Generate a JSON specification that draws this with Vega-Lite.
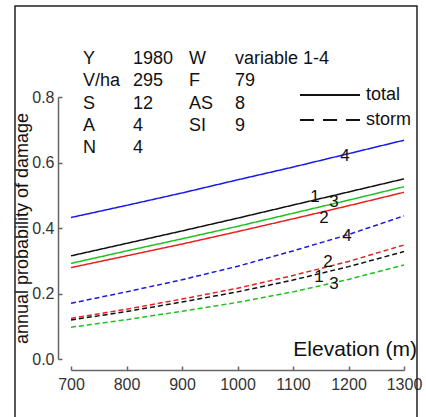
{
  "$schema": "https://vega.github.io/schema/vega-lite/v6.json",
  "width": 333,
  "height": 262,
  "autosize": {"type": "none"},
  "padding": {"left": 71, "top": 97, "right": 22, "bottom": 58},
  "background": "white",
  "config": {"view": {"stroke": null}, "font": "Liberation Sans"},
  "datasets": {
    "curves": [
      {"elev": 700, "prob": 0.432, "variant": "4", "type": "total"},
      {"elev": 800, "prob": 0.469, "variant": "4", "type": "total"},
      {"elev": 900, "prob": 0.507, "variant": "4", "type": "total"},
      {"elev": 1000, "prob": 0.547, "variant": "4", "type": "total"},
      {"elev": 1100, "prob": 0.586, "variant": "4", "type": "total"},
      {"elev": 1200, "prob": 0.627, "variant": "4", "type": "total"},
      {"elev": 1300, "prob": 0.668, "variant": "4", "type": "total"},
      {"elev": 700, "prob": 0.315, "variant": "1", "type": "total"},
      {"elev": 800, "prob": 0.353, "variant": "1", "type": "total"},
      {"elev": 900, "prob": 0.391, "variant": "1", "type": "total"},
      {"elev": 1000, "prob": 0.430, "variant": "1", "type": "total"},
      {"elev": 1100, "prob": 0.470, "variant": "1", "type": "total"},
      {"elev": 1200, "prob": 0.510, "variant": "1", "type": "total"},
      {"elev": 1300, "prob": 0.550, "variant": "1", "type": "total"},
      {"elev": 700, "prob": 0.292, "variant": "3", "type": "total"},
      {"elev": 800, "prob": 0.330, "variant": "3", "type": "total"},
      {"elev": 900, "prob": 0.367, "variant": "3", "type": "total"},
      {"elev": 1000, "prob": 0.405, "variant": "3", "type": "total"},
      {"elev": 1100, "prob": 0.445, "variant": "3", "type": "total"},
      {"elev": 1200, "prob": 0.485, "variant": "3", "type": "total"},
      {"elev": 1300, "prob": 0.526, "variant": "3", "type": "total"},
      {"elev": 700, "prob": 0.279, "variant": "2", "type": "total"},
      {"elev": 800, "prob": 0.315, "variant": "2", "type": "total"},
      {"elev": 900, "prob": 0.351, "variant": "2", "type": "total"},
      {"elev": 1000, "prob": 0.389, "variant": "2", "type": "total"},
      {"elev": 1100, "prob": 0.428, "variant": "2", "type": "total"},
      {"elev": 1200, "prob": 0.468, "variant": "2", "type": "total"},
      {"elev": 1300, "prob": 0.509, "variant": "2", "type": "total"},
      {"elev": 700, "prob": 0.170, "variant": "4", "type": "storm"},
      {"elev": 800, "prob": 0.205, "variant": "4", "type": "storm"},
      {"elev": 900, "prob": 0.242, "variant": "4", "type": "storm"},
      {"elev": 1000, "prob": 0.283, "variant": "4", "type": "storm"},
      {"elev": 1100, "prob": 0.330, "variant": "4", "type": "storm"},
      {"elev": 1200, "prob": 0.380, "variant": "4", "type": "storm"},
      {"elev": 1300, "prob": 0.437, "variant": "4", "type": "storm"},
      {"elev": 700, "prob": 0.124, "variant": "2", "type": "storm"},
      {"elev": 800, "prob": 0.152, "variant": "2", "type": "storm"},
      {"elev": 900, "prob": 0.183, "variant": "2", "type": "storm"},
      {"elev": 1000, "prob": 0.216, "variant": "2", "type": "storm"},
      {"elev": 1100, "prob": 0.255, "variant": "2", "type": "storm"},
      {"elev": 1200, "prob": 0.298, "variant": "2", "type": "storm"},
      {"elev": 1300, "prob": 0.348, "variant": "2", "type": "storm"},
      {"elev": 700, "prob": 0.119, "variant": "1", "type": "storm"},
      {"elev": 800, "prob": 0.145, "variant": "1", "type": "storm"},
      {"elev": 900, "prob": 0.174, "variant": "1", "type": "storm"},
      {"elev": 1000, "prob": 0.205, "variant": "1", "type": "storm"},
      {"elev": 1100, "prob": 0.241, "variant": "1", "type": "storm"},
      {"elev": 1200, "prob": 0.282, "variant": "1", "type": "storm"},
      {"elev": 1300, "prob": 0.328, "variant": "1", "type": "storm"},
      {"elev": 700, "prob": 0.097, "variant": "3", "type": "storm"},
      {"elev": 800, "prob": 0.120, "variant": "3", "type": "storm"},
      {"elev": 900, "prob": 0.146, "variant": "3", "type": "storm"},
      {"elev": 1000, "prob": 0.173, "variant": "3", "type": "storm"},
      {"elev": 1100, "prob": 0.205, "variant": "3", "type": "storm"},
      {"elev": 1200, "prob": 0.243, "variant": "3", "type": "storm"},
      {"elev": 1300, "prob": 0.287, "variant": "3", "type": "storm"}
    ],
    "labels": [
      {"elev": 1193.7, "prob": 0.620, "label": "4"},
      {"elev": 1139.6, "prob": 0.4956, "label": "1"},
      {"elev": 1173.9, "prob": 0.480, "label": "3"},
      {"elev": 1155.9, "prob": 0.4305, "label": "2"},
      {"elev": 1197.3, "prob": 0.3756, "label": "4"},
      {"elev": 1163.1, "prob": 0.297, "label": "2"},
      {"elev": 1146.8, "prob": 0.251, "label": "1"},
      {"elev": 1173.9, "prob": 0.229, "label": "3"}
    ],
    "one": [{}]
  },
  "layer": [
    {
      "data": {"name": "curves"},
      "mark": {"type": "line", "strokeWidth": 1.5, "clip": false},
      "encoding": {
        "x": {
          "field": "elev", "type": "quantitative",
          "scale": {"domain": [700, 1300]},
          "axis": {
            "title": null, "values": [700, 800, 900, 1000, 1100, 1200, 1300], "format": "d",
            "offset": 11, "tickSize": -4, "labelPadding": 10, "labelFontSize": 16,
            "labelColor": "#333", "domainColor": "#666", "tickColor": "#666",
            "domainWidth": 1.5, "tickWidth": 1.5, "grid": false, "labelFlush": false
          }
        },
        "y": {
          "field": "prob", "type": "quantitative",
          "scale": {"domain": [0, 0.8]},
          "axis": {
            "title": "annual probability of damage", "values": [0, 0.2, 0.4, 0.6, 0.8], "format": ".1f",
            "offset": 13, "tickSize": -4, "labelPadding": 8, "labelFontSize": 16,
            "labelColor": "#333", "domainColor": "#666", "tickColor": "#666",
            "domainWidth": 1.5, "tickWidth": 1.5, "grid": false, "labelFlush": false,
            "titleFontSize": 18, "titleFontWeight": "normal", "titleColor": "#111", "titlePadding": 0
          }
        },
        "color": {
          "field": "variant", "type": "nominal",
          "scale": {"domain": ["1", "2", "3", "4"], "range": ["#111111", "#e82020", "#20c020", "#1a1ae6"]},
          "legend": null
        },
        "strokeDash": {
          "field": "type", "type": "nominal",
          "scale": {"domain": ["total", "storm"], "range": [[1, 0], [5, 3]]},
          "legend": null
        }
      }
    },
    {
      "data": {"name": "one"},
      "mark": {"type": "rect", "fill": null, "stroke": "#222", "strokeWidth": 1.5},
      "encoding": {
        "x": {"datum": 599.1, "type": "quantitative"},
        "x2": {"datum": 1323.4},
        "y": {"datum": 1.078, "type": "quantitative"},
        "y2": {"datum": -0.25}
      }
    },
    {
      "data": {"name": "one"},
      "mark": {"type": "rule", "stroke": "#111", "strokeWidth": 2},
      "encoding": {
        "x": {"datum": 1112.6, "type": "quantitative"},
        "x2": {"datum": 1220.7},
        "y": {"datum": 0.806, "type": "quantitative"}
      }
    },
    {
      "data": {"name": "one"},
      "mark": {"type": "rule", "stroke": "#111", "strokeWidth": 2, "strokeDash": [14, 9]},
      "encoding": {
        "x": {"datum": 1112.6, "type": "quantitative"},
        "x2": {"datum": 1220.7},
        "y": {"datum": 0.7298, "type": "quantitative"}
      }
    },
    {
      "data": {"name": "one"},
      "mark": {"type": "text", "text": "total", "align": "left", "baseline": "middle", "fontSize": 18, "color": "#111"},
      "encoding": {
        "x": {"datum": 1231.5, "type": "quantitative"},
        "y": {"datum": 0.806, "type": "quantitative"}
      }
    },
    {
      "data": {"name": "one"},
      "mark": {"type": "text", "text": "storm", "align": "left", "baseline": "middle", "fontSize": 18, "color": "#111"},
      "encoding": {
        "x": {"datum": 1231.5, "type": "quantitative"},
        "y": {"datum": 0.731, "type": "quantitative"}
      }
    },
    {
      "data": {"name": "labels"},
      "mark": {"type": "text", "fontSize": 17, "color": "#111", "align": "center", "baseline": "middle"},
      "encoding": {
        "x": {"field": "elev", "type": "quantitative"},
        "y": {"field": "prob", "type": "quantitative"},
        "text": {"field": "label"}
      }
    },
    {
      "data": {"name": "one"},
      "mark": {"type": "text", "text": ["Y", "V/ha", "S", "A", "N"], "align": "left", "baseline": "middle", "fontSize": 18, "lineHeight": 22.25, "color": "#111"},
      "encoding": {
        "x": {"datum": 721.6, "type": "quantitative"},
        "y": {"datum": 0.916, "type": "quantitative"}
      }
    },
    {
      "data": {"name": "one"},
      "mark": {"type": "text", "text": ["1980", "295", "12", "4", "4"], "align": "left", "baseline": "middle", "fontSize": 18, "lineHeight": 22.25, "color": "#111"},
      "encoding": {
        "x": {"datum": 811.7, "type": "quantitative"},
        "y": {"datum": 0.916, "type": "quantitative"}
      }
    },
    {
      "data": {"name": "one"},
      "mark": {"type": "text", "text": ["W", "F", "AS", "SI"], "align": "left", "baseline": "middle", "fontSize": 18, "lineHeight": 22.25, "color": "#111"},
      "encoding": {
        "x": {"datum": 912.6, "type": "quantitative"},
        "y": {"datum": 0.916, "type": "quantitative"}
      }
    },
    {
      "data": {"name": "one"},
      "mark": {"type": "text", "text": ["variable 1-4", "79", "8", "9"], "align": "left", "baseline": "middle", "fontSize": 18, "lineHeight": 22.25, "color": "#111"},
      "encoding": {
        "x": {"datum": 995.5, "type": "quantitative"},
        "y": {"datum": 0.916, "type": "quantitative"}
      }
    },
    {
      "data": {"name": "one"},
      "mark": {"type": "text", "text": "Elevation (m)", "align": "right", "baseline": "middle", "fontSize": 21, "color": "#111"},
      "encoding": {
        "x": {"datum": 1323.4, "type": "quantitative"},
        "y": {"datum": 0.0275, "type": "quantitative"}
      }
    }
  ]
}
